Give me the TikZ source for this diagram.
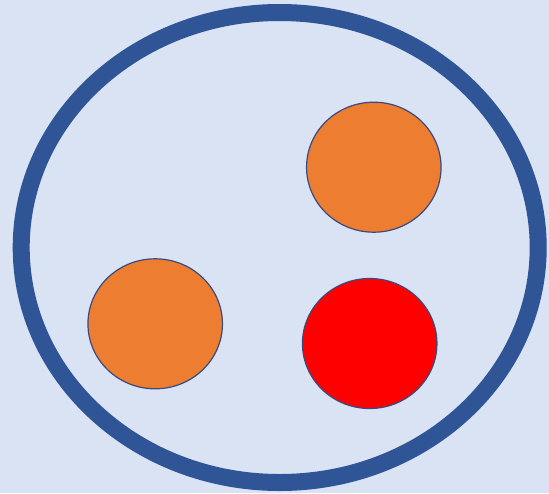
\documentclass[tikz,border=0pt]{standalone}
\usetikzlibrary{shapes.geometric}
\definecolor{bgblue}{HTML}{DAE3F3}
\definecolor{ringblue}{HTML}{2F5597}
\definecolor{ballorange}{HTML}{ED7D31}
\definecolor{ballred}{HTML}{FF0000}
\definecolor{balledge}{HTML}{3A4A7E}

\begin{document}
\begin{tikzpicture}[
  x=1pt,y=-1pt,
  ring/.style={ellipse,draw=ringblue,line width=17pt,inner sep=0pt,
               minimum width=517pt,minimum height=470pt},
  ball/.style={ellipse,draw=balledge,line width=1.2pt,inner sep=0pt,
               minimum width=134.5pt,minimum height=130pt},
  orangeball/.style={ball,fill=ballorange},
  redball/.style={ball,fill=ballred}
]
\fill[bgblue] (0,0) rectangle (549,493);
\useasboundingbox (0,0) rectangle (549,493);

\node[ring] (set) at (279.7,247.5) {};
\node[orangeball] (topball) at (373.8,167.2) {};
\node[orangeball] (leftball) at (155.2,323.8) {};
\node[redball] (redball) at (369.7,343.5) {};
\end{tikzpicture}
\end{document}
